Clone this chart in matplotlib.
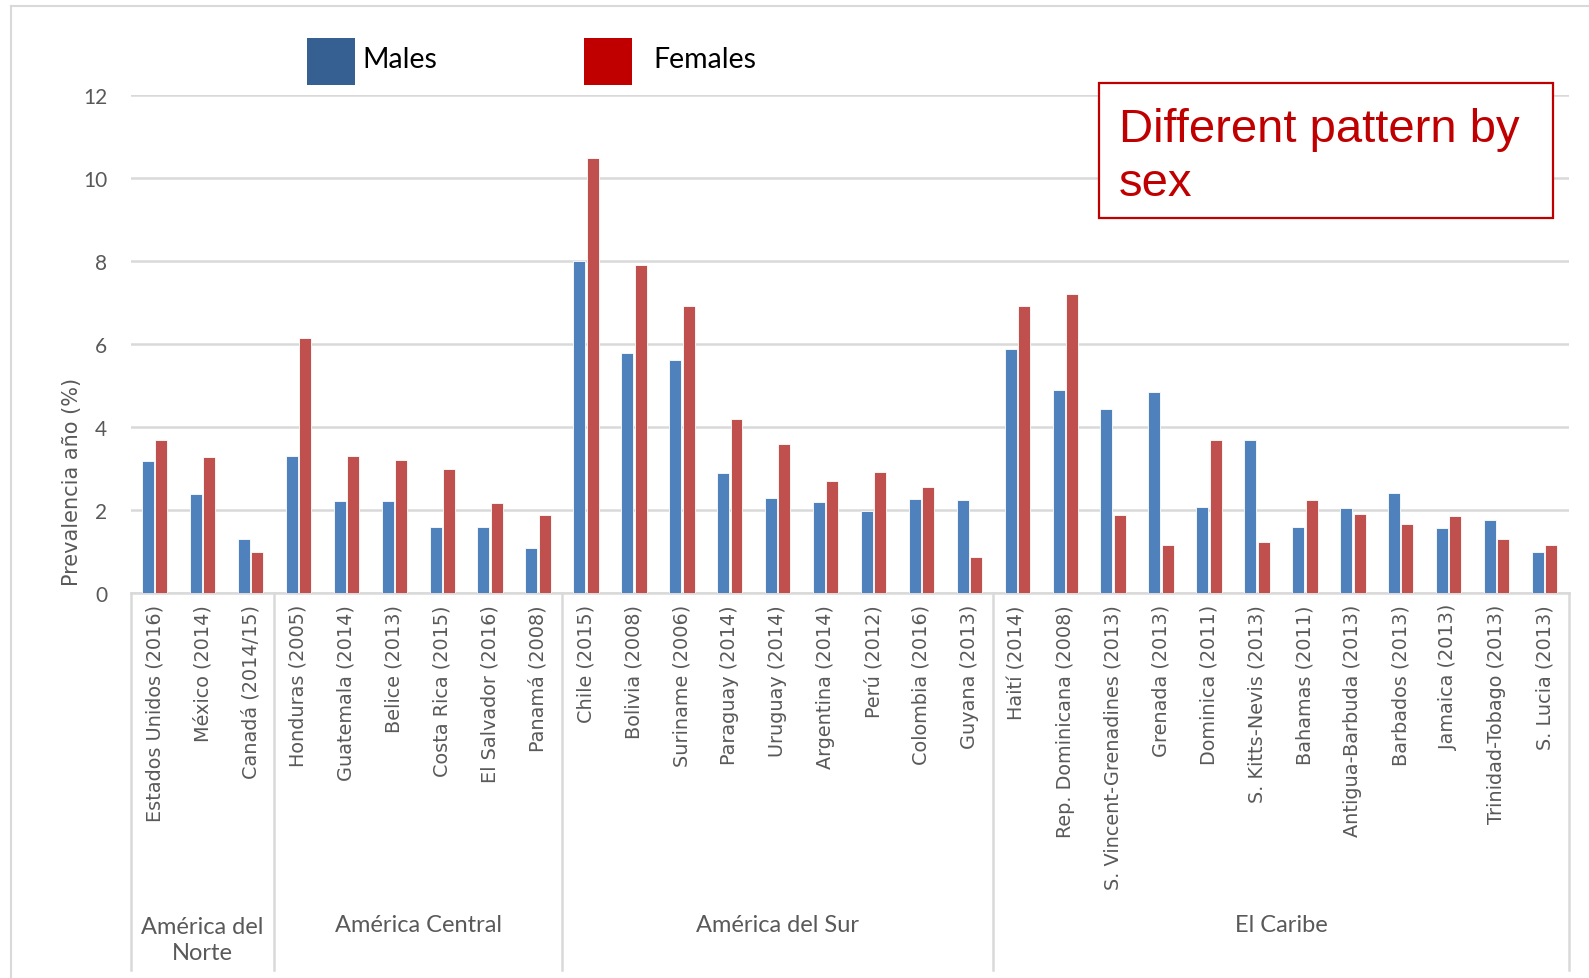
import matplotlib
matplotlib.use("Agg")
import matplotlib.pyplot as plt
import matplotlib.transforms as mtransforms
from matplotlib.patches import Rectangle
from matplotlib.lines import Line2D
import numpy as np

# -----------------------------
# Data
# -----------------------------
countries = [
    "Estados Unidos (2016)", "México (2014)", "Canadá (2014/15)",
    "Honduras (2005)", "Guatemala (2014)", "Belice (2013)", "Costa Rica (2015)",
    "El Salvador (2016)", "Panamá (2008)",
    "Chile (2015)", "Bolivia (2008)", "Suriname (2006)", "Paraguay (2014)",
    "Uruguay (2014)", "Argentina (2014)", "Perú (2012)", "Colombia (2016)", "Guyana (2013)",
    "Haití (2014)", "Rep. Dominicana (2008)", "S. Vincent-Grenadines (2013)", "Grenada (2013)",
    "Dominica (2011)", "S. Kitts-Nevis (2013)", "Bahamas (2011)", "Antigua-Barbuda (2013)",
    "Barbados (2013)", "Jamaica (2013)", "Trinidad-Tobago (2013)", "S. Lucia (2013)",
]
males = [
    3.18, 2.38, 1.29,
    3.31, 2.23, 2.21, 1.58, 1.58, 1.09,
    8.0, 5.79, 5.62, 2.89, 2.29, 2.19, 1.98, 2.27, 2.24,
    5.88, 4.90, 4.43, 4.85, 2.08, 3.70, 1.58, 2.05, 2.42, 1.57, 1.75, 0.98,
]
females = [
    3.68, 3.29, 0.99,
    6.14, 3.30, 3.21, 3.00, 2.18, 1.88,
    10.5, 7.90, 6.93, 4.19, 3.59, 2.69, 2.91, 2.56, 0.88,
    6.93, 7.21, 1.89, 1.16, 3.68, 1.24, 2.25, 1.90, 1.67, 1.85, 1.30, 1.15,
]
regions = ["América del\nNorte", "América Central", "América del Sur", "El Caribe"]
region_sizes = [3, 6, 9, 12]

BAR_BLUE = "#4F81BD"
BAR_RED = "#C0504D"
LEG_BLUE = "#376092"
LEG_RED = "#C00000"
GRID = "#D9D9D9"
TXT = "#595959"
NARROW = ["Lato", "DejaVu Sans"]

W, H = 1589, 979
fig = plt.figure(figsize=(W / 100, H / 100), dpi=100)


def fx(px):
    return px / W


def fy(py):
    return 1 - py / H


ax_top, ax_bot = 96.3, 594
ax = fig.add_axes([fx(130.7), fy(ax_bot), fx(1568.5 - 130.7), (ax_bot - ax_top) / H])

x = np.arange(len(countries))
bw = 0.25
ax.bar(x - 0.14, males, bw, color=BAR_BLUE, edgecolor="white", linewidth=0.6, zorder=3)
ax.bar(x + 0.14, females, bw, color=BAR_RED, edgecolor="white", linewidth=0.6, zorder=3)

ax.set_xlim(-0.5, len(countries) - 0.5)
ax.set_ylim(0, 12)
ax.set_yticks(range(0, 13, 2))
ax.yaxis.grid(True, color=GRID, linewidth=1.8, zorder=0)
ax.set_axisbelow(True)
for s in ["left", "right", "top"]:
    ax.spines[s].set_visible(False)
ax.spines["bottom"].set_color(GRID)
ax.spines["bottom"].set_linewidth(1.8)
ax.tick_params(axis="y", length=0, pad=17, labelcolor=TXT)
for lbl in ax.get_yticklabels():
    lbl.set_family(NARROW)
    lbl.set_fontsize(15)

ax.set_xticks(x)
ax.set_xticklabels(countries, rotation=90, fontsize=13.9, color=TXT, family="DejaVu Sans")
ax.tick_params(axis="x", length=0, pad=8)

# group separators and region names below the category labels
trans = mtransforms.blended_transform_factory(ax.transData, ax.transAxes)


def to_axes_y(py):
    return -(py - ax_bot) / (ax_bot - ax_top)


bounds = np.concatenate([[0], np.cumsum(region_sizes)]) - 0.5
for b in bounds:
    ax.add_line(Line2D([b, b], [0, to_axes_y(971)], transform=trans, color=GRID,
                       linewidth=1.8, clip_on=False))
for i, name in enumerate(regions):
    mid = (bounds[i] + bounds[i + 1]) / 2
    yy = to_axes_y(940.5) if "\n" in name else to_axes_y(926)
    ax.text(mid, yy, name, transform=trans, ha="center", va="center",
            fontsize=17, color=TXT, family=NARROW, linespacing=1.25)

fig.text(fx(72), fy(482), "Prevalencia año (%)", rotation=90, ha="center", va="center",
         fontsize=15, color=TXT, family="DejaVu Sans")

# legend squares
fig.add_artist(Rectangle((fx(307), fy(86)), fx(48), 47.5 / H, transform=fig.transFigure,
                         facecolor=LEG_BLUE, edgecolor="none"))
fig.add_artist(Rectangle((fx(584), fy(86)), fx(48), 47.5 / H, transform=fig.transFigure,
                         facecolor=LEG_RED, edgecolor="none"))
fig.text(fx(362), fy(60), "Males", ha="left", va="center", fontsize=20.5, family=NARROW, color="black")
fig.text(fx(653), fy(60), "Females", ha="left", va="center", fontsize=20.5, family=NARROW, color="black")

# annotation box
fig.add_artist(Rectangle((fx(1098.5), fy(219)), fx(1553 - 1098.5), (219 - 84) / H,
                         transform=fig.transFigure, facecolor="white", edgecolor=LEG_RED,
                         linewidth=1.6, zorder=5))
fig.text(fx(1119), fy(157), "Different pattern by\nsex", ha="left", va="center", fontsize=34,
         family="Liberation Sans", color=LEG_RED, linespacing=1.32, zorder=6)

# outer frame of the chart
fig.add_artist(Line2D([fx(11), 1], [fy(7), fy(7)], transform=fig.transFigure, color=GRID, linewidth=1.5))
fig.add_artist(Line2D([fx(11), fx(11)], [fy(7), 0], transform=fig.transFigure, color=GRID, linewidth=1.5))

fig.savefig("out.png", dpi=100)
plt.close(fig)
